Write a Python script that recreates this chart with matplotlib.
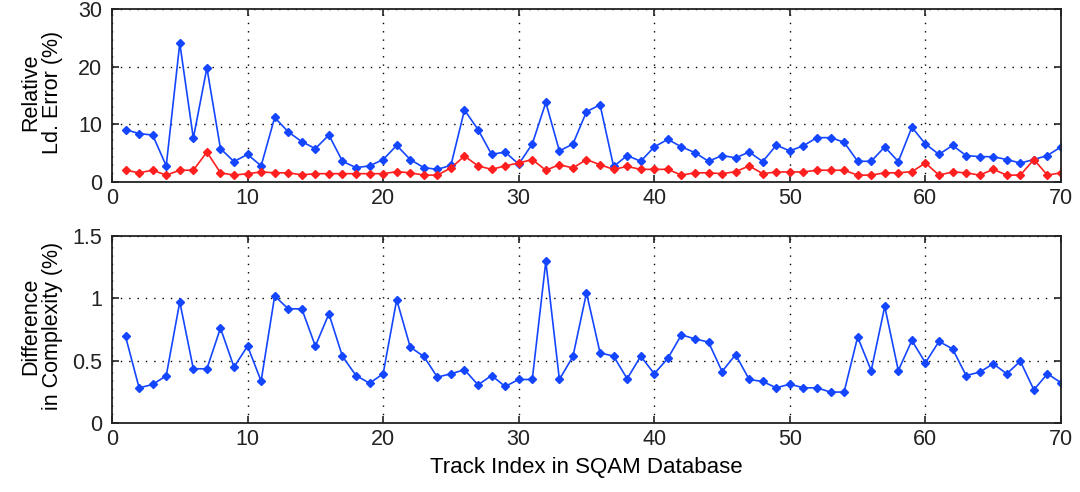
import numpy as np
import matplotlib.pyplot as plt

# track numbers in the SQAM set
track = np.arange(1, 71)

# relative loudness error (%), two methods
err_blue = [9.1, 8.4, 8.15, 2.8, 24.1, 7.6, 19.8, 5.8, 3.55, 4.8,
            2.8, 11.2, 8.7, 7.0, 5.8, 8.15, 3.6, 2.5, 2.8, 3.9,
            6.35, 3.9, 2.5, 2.2, 2.9, 12.5, 9.1, 4.8, 5.2, 3.1,
            6.6, 13.8, 5.4, 6.6, 12.2, 13.4, 2.7, 4.6, 3.6, 6.1,
            7.4, 6.1, 5.1, 3.6, 4.6, 4.2, 5.2, 3.55, 6.4, 5.4,
            6.3, 7.7, 7.7, 6.9, 3.6, 3.6, 6.1, 3.55, 9.5, 6.6,
            4.8, 6.35, 4.6, 4.4, 4.4, 3.9, 3.3, 3.9, 4.6, 6.1]
err_red = [2.05, 1.6, 2.05, 1.2, 2.05, 2.05, 5.2, 1.6, 1.2, 1.45,
           1.75, 1.6, 1.6, 1.25, 1.45, 1.45, 1.45, 1.45, 1.45, 1.45,
           1.8, 1.6, 1.2, 1.2, 2.45, 4.5, 2.8, 2.2, 2.8, 3.3,
           3.9, 2.05, 3.0, 2.45, 3.9, 3.0, 2.2, 2.7, 2.2, 2.2,
           2.2, 1.2, 1.6, 1.6, 1.45, 1.8, 2.8, 1.45, 1.75, 1.75,
           1.75, 2.05, 2.05, 2.05, 1.2, 1.2, 1.6, 1.6, 1.8, 3.3,
           1.2, 1.75, 1.6, 1.2, 2.2, 1.2, 1.2, 3.9, 1.2, 1.6]

# difference in complexity (%)
complexity = [0.695, 0.283, 0.31, 0.38, 0.973, 0.436, 0.436, 0.762, 0.45, 0.618,
              0.337, 1.02, 0.917, 0.917, 0.618, 0.877, 0.535, 0.382, 0.32, 0.396,
              0.99, 0.61, 0.535, 0.369, 0.396, 0.428, 0.307, 0.382, 0.294, 0.35,
              0.35, 1.297, 0.35, 0.535, 1.045, 0.564, 0.537, 0.356, 0.537, 0.396,
              0.52, 0.708, 0.676, 0.65, 0.414, 0.55, 0.35, 0.334, 0.283, 0.313,
              0.283, 0.283, 0.249, 0.249, 0.69, 0.422, 0.936, 0.422, 0.663, 0.484,
              0.655, 0.596, 0.382, 0.409, 0.476, 0.396, 0.497, 0.267, 0.396, 0.324]

plt.rcParams.update({
    'font.family': 'Liberation Sans',
    'font.size': 15.5,
    'xtick.direction': 'in',
    'ytick.direction': 'in',
    'xtick.top': True,
    'ytick.right': True,
    'xtick.major.size': 5,
    'ytick.major.size': 5,
    'axes.linewidth': 1.3,
    'text.color': '#222222',
})

fig = plt.figure(figsize=(10.8, 4.92), dpi=100)
ax1 = fig.add_axes([0.1037, 0.630, 0.8787, 0.3516])
ax2 = fig.add_axes([0.1037, 0.140, 0.8787, 0.380])

blue = '#1446ff'
red = '#ff1f1f'

ax1.plot(track, err_blue, color=blue, marker='D', ms=4.5, lw=1.2)
ax1.plot(track, err_red, color=red, marker='D', ms=4.5, lw=1.2)
ax1.set_xlim(0, 70)
ax1.set_ylim(0, 30)
ax1.set_yticks([0, 10, 20, 30])
ax1.set_ylabel('Relative\nLd. Error (%)', fontsize=15.5, linespacing=1.05)

ax2.plot(track, complexity, color=blue, marker='D', ms=4.5, lw=1.2)
ax2.set_xlim(0, 70)
ax2.set_ylim(0, 1.5)
ax2.set_yticks([0, 0.5, 1, 1.5])
ax2.set_yticklabels(['0', '0.5', '1', '1.5'])
ax2.set_ylabel('Difference\nin Complexity (%)', fontsize=15.5, linespacing=1.05)
ax2.set_xlabel('Track Index in SQAM Database', fontsize=16, labelpad=5)

for ax in (ax1, ax2):
    ax.set_xticks(np.arange(0, 71, 10))
    ax.grid(True, color='k', linestyle=(0, (1, 5)), linewidth=1.0)
    ax.tick_params(width=1.2, colors='#222222')
    ax.tick_params(axis='y', pad=7)
    ax.tick_params(axis='x', pad=4)
    ax.yaxis.set_label_coords(-0.052, 0.52)
    for s in ax.spines.values():
        s.set_color('#222222')

fig.savefig('out.png', dpi=100)
